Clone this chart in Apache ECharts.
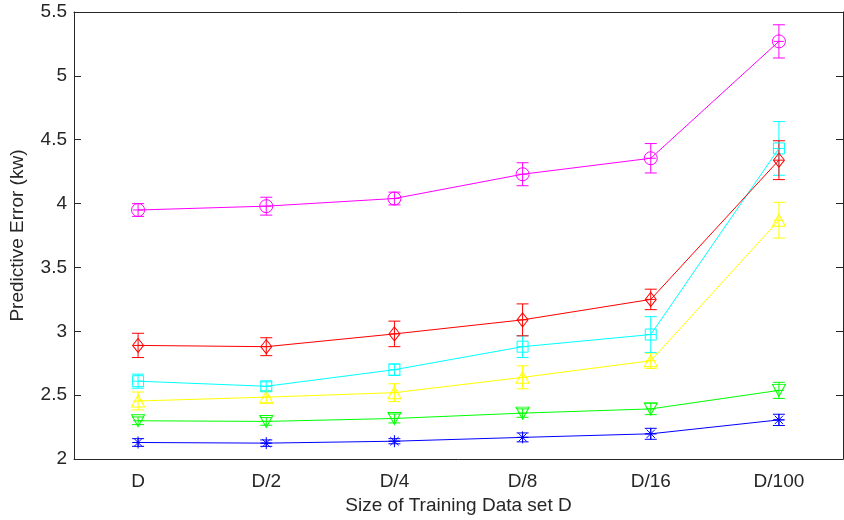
<!DOCTYPE html>
<html>
<head>
<meta charset="utf-8">
<script src="https://cdn.jsdelivr.net/npm/echarts@6/dist/echarts.min.js"></script>
<style>
  html, body { margin: 0; padding: 0; background: #fff; }
  #chart { width: 844px; height: 520px; }
</style>
</head>
<body>
<div id="chart"></div>
<script>
const categories = ['D', 'D/2', 'D/4', 'D/8', 'D/16', 'D/100']

// mean values and half-width of error bars
const magentaMean = [3.95, 3.98, 4.04, 4.23, 4.355, 5.27]
const magentaErr = [0.05, 0.07, 0.05, 0.09, 0.115, 0.13]
const redMean = [2.89, 2.88, 2.98, 3.09, 3.25, 4.34]
const redErr = [0.095, 0.07, 0.10, 0.125, 0.08, 0.152]
const cyanMean = [2.61, 2.57, 2.70, 2.88, 2.975, 4.432]
const cyanErr = [0.055, 0.035, 0.045, 0.085, 0.14, 0.21]
const yellowMean = [2.455, 2.485, 2.52, 2.64, 2.77, 3.87]
const yellowErr = [0.07, 0.045, 0.07, 0.09, 0.06, 0.14]
const greenMean = [2.30, 2.295, 2.318, 2.36, 2.393, 2.538]
const greenErr = [0.03, 0.03, 0.035, 0.033, 0.045, 0.063]
const blueMean = [2.13, 2.125, 2.14, 2.17, 2.198, 2.307]
const blueErr = [0.03, 0.025, 0.02, 0.035, 0.043, 0.044]

const yTicks = { min: 2, max: 5.5, interval: 0.5 }

const TRI_DOWN = 'path://M0,0L10,0L5,9Z'
const ASTERISK = 'path://M5,0L5,10M0,5L10,5M1.5,1.5L8.5,8.5M8.5,1.5L1.5,8.5'

const seriesDefs = [
  { name: 'blue', color: '#0000ff', mean: blueMean, err: blueErr, symbol: ASTERISK, size: 12 },
  { name: 'green', color: '#00ff00', mean: greenMean, err: greenErr, symbol: TRI_DOWN, size: [13, 12] },
  { name: 'yellow', color: '#ffff00', mean: yellowMean, err: yellowErr, symbol: 'triangle', size: [13, 12] },
  { name: 'cyan', color: '#00ffff', mean: cyanMean, err: cyanErr, symbol: 'rect', size: 11 },
  { name: 'red', color: '#ff0000', mean: redMean, err: redErr, symbol: 'diamond', size: [11, 14] },
  { name: 'magenta', color: '#ff00ff', mean: magentaMean, err: magentaErr, symbol: 'circle', size: 13 },
]

function errorBarItem(params, api) {
  const c = api.coord([api.value(0), api.value(3)])
  const lo = api.coord([api.value(0), api.value(1)])
  const hi = api.coord([api.value(0), api.value(2)])
  const cap = 6
  const style = { stroke: api.visual('color'), lineWidth: 1 }
  return {
    type: 'group',
    children: [
      { type: 'line', shape: { x1: lo[0], y1: lo[1], x2: hi[0], y2: hi[1] }, style },
      { type: 'line', shape: { x1: hi[0] - cap, y1: hi[1], x2: hi[0] + cap, y2: hi[1] }, style },
      { type: 'line', shape: { x1: lo[0] - cap, y1: lo[1], x2: lo[0] + cap, y2: lo[1] }, style },
      { type: 'line', shape: { x1: c[0] - 5, y1: c[1], x2: c[0] + 5, y2: c[1] }, style },
    ],
  }
}

const series = []
seriesDefs.forEach(s => {
  series.push({
    name: s.name,
    type: 'line',
    data: s.mean,
    symbol: s.symbol,
    symbolSize: s.size,
    showAllSymbol: true,
    lineStyle: { color: s.color, width: 1 },
    itemStyle: { color: 'transparent', borderColor: s.color, borderWidth: 1 },
    emphasis: { disabled: true },
    z: 3,
  })
  series.push({
    name: s.name + '-err',
    type: 'custom',
    renderItem: errorBarItem,
    itemStyle: { color: s.color },
    encode: { x: 0, y: [1, 2] },
    data: s.mean.map((m, i) => [i, m - s.err[i], m + s.err[i], m]),
    z: 2,
  })
})

const textColor = '#262626'
const fontFamily = '"Liberation Sans", Arial, Helvetica, sans-serif'
const axisLine = { show: true, lineStyle: { color: '#262626', width: 1 } }

const chart = echarts.init(document.getElementById('chart'), null, { renderer: 'canvas' })
chart.setOption({
  animation: false,
  backgroundColor: '#fff',
  grid: { left: 71, right: 1, top: 12, bottom: 56 },
  xAxis: [
    {
      type: 'category',
      data: categories,
      position: 'bottom',
      boundaryGap: true,
      axisLine,
      axisTick: { inside: true, alignWithLabel: true, length: 7, lineStyle: { color: '#262626' } },
      axisLabel: { color: textColor, fontSize: 19, fontFamily, margin: 13 },
      name: 'Size of Training Data set D',
      nameLocation: 'middle',
      nameGap: 33,
      nameTextStyle: { color: textColor, fontSize: 19, fontFamily },
      splitLine: { show: false },
    },
    {
      type: 'category',
      data: categories,
      position: 'top',
      boundaryGap: true,
      axisLine,
      axisTick: { inside: true, alignWithLabel: true, length: 7, lineStyle: { color: '#262626' } },
      axisLabel: { show: false },
      splitLine: { show: false },
    },
  ],
  yAxis: [
    {
      type: 'value',
      position: 'left',
      min: yTicks.min,
      max: yTicks.max,
      interval: yTicks.interval,
      axisLine,
      axisTick: { show: true, inside: true, length: 7, lineStyle: { color: '#262626' } },
      axisLabel: { color: textColor, fontSize: 19, fontFamily, margin: 7 },
      name: 'Predictive Error (kw)',
      nameLocation: 'middle',
      nameGap: 47,
      nameTextStyle: { color: textColor, fontSize: 19, fontFamily },
      splitLine: { show: false },
    },
    {
      type: 'value',
      position: 'right',
      min: yTicks.min,
      max: yTicks.max,
      interval: yTicks.interval,
      axisLine,
      axisTick: { show: true, inside: true, length: 7, lineStyle: { color: '#262626' } },
      axisLabel: { show: false },
      splitLine: { show: false },
    },
  ],
  series,
})
</script>
</body>
</html>
